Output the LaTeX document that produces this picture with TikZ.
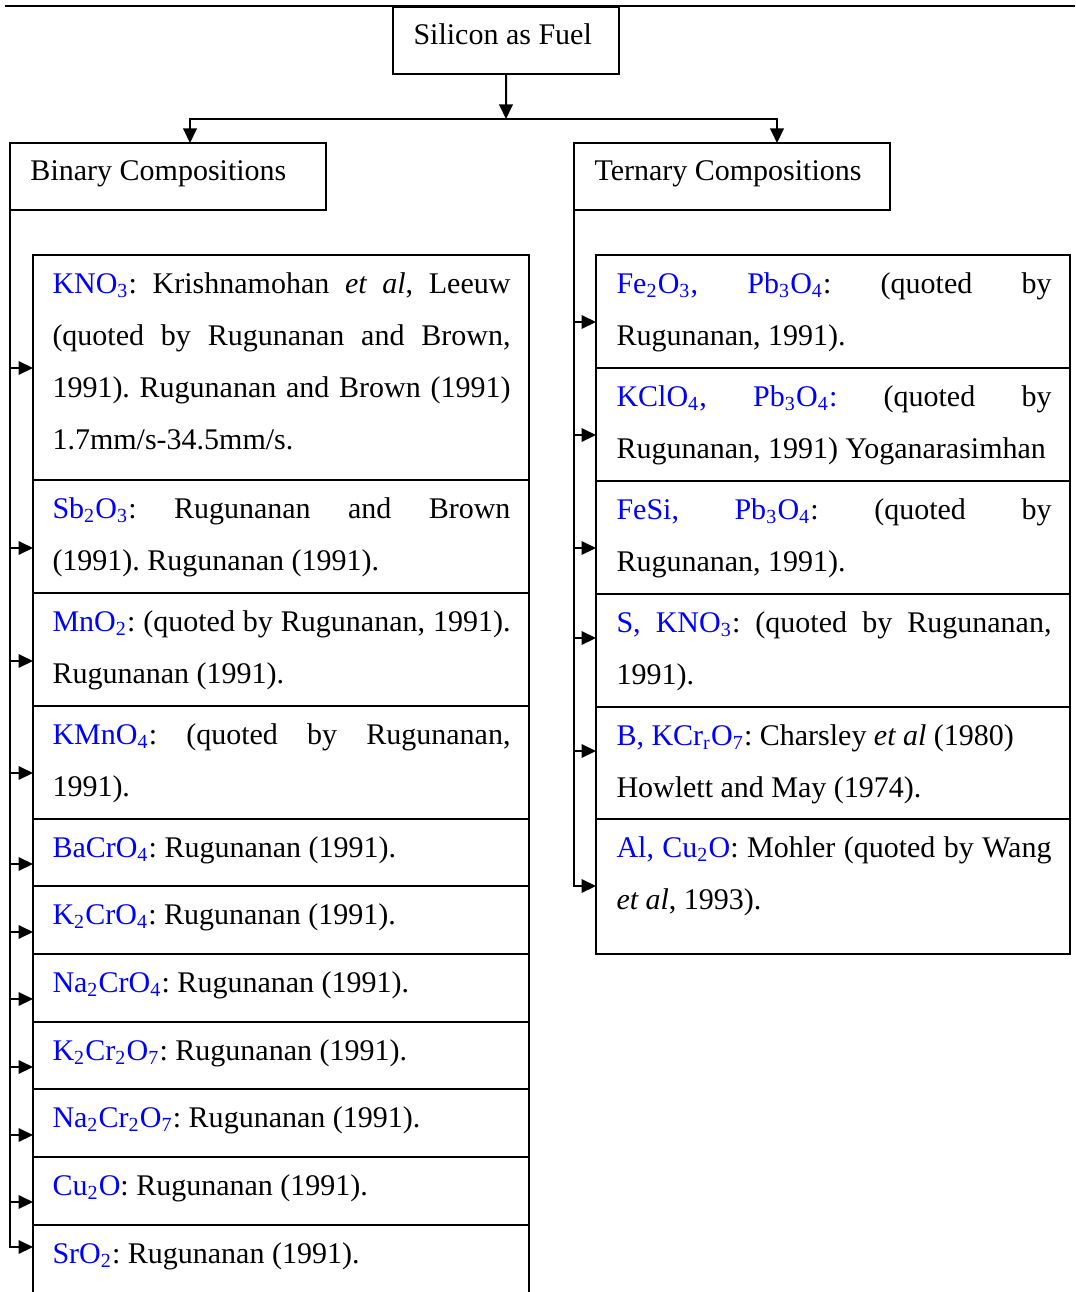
\documentclass[tikz,border=0pt]{standalone}
\usepackage{fontspec}
\setmainfont{Liberation Serif}
\usetikzlibrary{arrows.meta}
\hyphenpenalty=10000
\exhyphenpenalty=10000
\tolerance=9999
\frenchspacing
\newcommand\sbs[1]{\textsubscript{#1}}
\newcommand\chem[1]{\textcolor{blue}{#1}}
\begin{document}
\begin{tikzpicture}[x=0.4pt,y=-0.4pt,
  boxst/.style={draw,line width=0.6pt,rectangle,inner sep=0pt,outer sep=0pt,anchor=north west},
  titletxt/.style={inner sep=0pt,anchor=base west,font=\fontsize{12}{20.8}\selectfont\frenchspacing},
  itemtxt/.style={inner sep=0pt,anchor=base west,align=justify,font=\fontsize{12}{20.8}\selectfont\frenchspacing},
  ltxt/.style={itemtxt,text width=183.2pt},
  rtxt/.style={itemtxt,text width=174pt},
  lbox/.style={boxst,minimum width=198.4pt},
  rbox/.style={boxst,minimum width=189.6pt},
  conn/.style={line width=0.8pt},
  arr/.style={conn,-{Triangle[length=5.8pt,width=5.4pt]}}]
\useasboundingbox (0,0) rectangle (1075,1292);
\clip (0,0) rectangle (1075,1292);

% top rule
\draw[line width=0.8pt] (5,6) -- (1075,6);

% title boxes
\node[boxst,minimum width=90.4pt,minimum height=26.8pt] (sil) at (393,7) {};
\node[titletxt] (silT) at (413,45) {Silicon as Fuel};
\node[boxst,minimum width=126.4pt,minimum height=26.8pt] (bin) at (10,143) {};
\node[titletxt] (binT) at (30,181) {Binary Compositions};
\node[boxst,minimum width=126.4pt,minimum height=26.8pt] (ter) at (574,143) {};
\node[titletxt] (terT) at (594,181) {Ternary Compositions};

% top connectors
\coordinate (jn) at (506,119);
\coordinate (binIn) at (190,143);
\coordinate (terIn) at (777,143);
\draw[arr] (sil.south) -- (jn);
\draw[arr] (jn) -| (binIn);
\draw[arr] (jn) -| (terIn);

% left item boxes
\node[lbox,minimum height=90pt]   (L1)  at (33,255)  {};
\node[lbox,minimum height=45.2pt] (L2)  at (33,480)  {};
\node[lbox,minimum height=45.2pt] (L3)  at (33,593)  {};
\node[lbox,minimum height=45.2pt] (L4)  at (33,706)  {};
\node[lbox,minimum height=26.8pt] (L5)  at (33,819)  {};
\node[lbox,minimum height=27.2pt] (L6)  at (33,886)  {};
\node[lbox,minimum height=27.2pt] (L7)  at (33,954)  {};
\node[lbox,minimum height=26.8pt] (L8)  at (33,1022) {};
\node[lbox,minimum height=27.2pt] (L9)  at (33,1089) {};
\node[lbox,minimum height=27.2pt] (L10) at (33,1157) {};
\node[lbox,minimum height=32pt]   (L11) at (33,1225) {};

\node[ltxt] (L1t) at (52,293) {\chem{KNO\sbs{3}}: Krishnamohan \textit{et al}, Leeuw \linebreak (quoted by Rugunanan and Brown, \linebreak 1991). Rugunanan and Brown (1991) \linebreak 1.7mm/s-34.5mm/s.};
\node[ltxt] (L2t) at (52,518) {\chem{Sb\sbs{2}O\sbs{3}}: Rugunanan and Brown \linebreak (1991). Rugunanan (1991).};
\node[ltxt] (L3t) at (52,631) {\chem{MnO\sbs{2}}: (quoted by Rugunanan, 1991). \linebreak Rugunanan (1991).};
\node[ltxt] (L4t) at (52,744) {\chem{KMnO\sbs{4}}: (quoted by Rugunanan, \linebreak 1991).};
\node[ltxt] (L5t) at (52,857) {\chem{BaCrO\sbs{4}}: Rugunanan (1991).};
\node[ltxt] (L6t) at (52,924) {\chem{K\sbs{2}CrO\sbs{4}}: Rugunanan (1991).};
\node[ltxt] (L7t) at (52,992) {\chem{Na\sbs{2}CrO\sbs{4}}: Rugunanan (1991).};
\node[ltxt] (L8t) at (52,1060) {\chem{K\sbs{2}Cr\sbs{2}O\sbs{7}}: Rugunanan (1991).};
\node[ltxt] (L9t) at (52,1127) {\chem{Na\sbs{2}Cr\sbs{2}O\sbs{7}}: Rugunanan (1991).};
\node[ltxt] (L10t) at (52,1195) {\chem{Cu\sbs{2}O}: Rugunanan (1991).};
\node[ltxt] (L11t) at (52,1263) {\chem{SrO\sbs{2}}: Rugunanan (1991).};

% right item boxes
\node[rbox,minimum height=45.2pt] (R1) at (596,255) {};
\node[rbox,minimum height=45.2pt] (R2) at (596,368) {};
\node[rbox,minimum height=45.2pt] (R3) at (596,481) {};
\node[rbox,minimum height=45.2pt] (R4) at (596,594) {};
\node[rbox,minimum height=44.8pt] (R5) at (596,707) {};
\node[rbox,minimum height=54pt]   (R6) at (596,819) {};

\node[rtxt] (R1t) at (616,293) {\chem{Fe\sbs{2}O\sbs{3}, Pb\sbs{3}O\sbs{4}}: (quoted by \linebreak Rugunanan, 1991).};
\node[rtxt] (R2t) at (616,406) {\chem{KClO\sbs{4}, Pb\sbs{3}O\sbs{4}:} (quoted by \linebreak Rugunanan, 1991) Yoganarasimhan};
\node[rtxt] (R3t) at (616,519) {\chem{FeSi, Pb\sbs{3}O\sbs{4}}: (quoted by \linebreak Rugunanan, 1991).};
\node[rtxt] (R4t) at (616,632) {\chem{S, KNO\sbs{3}}: (quoted by Rugunanan, \linebreak 1991).};
\node[rtxt] (R5t) at (616,745) {\chem{B, KCr\sbs{r}O\sbs{7}}: Charsley \textit{et al} (1980)\\ Howlett and May (1974).};
\node[rtxt] (R6t) at (616,857) {\chem{Al, Cu\sbs{2}O}: Mohler (quoted by Wang \linebreak \textit{et al}, 1993).};

% left trunk and arrows
\coordinate (lEnd) at (10,1247);
\draw[arr] (bin.south west) -- (lEnd) -- (lEnd -| L11.west);
\foreach \n/\yy in {L1/368,L2/548,L3/661,L4/773,L5/864,L6/932,L7/999,L8/1067,L9/1135,L10/1202}
  \draw[arr] (10,\yy) -- (\n.west |- {(0,\yy)});

% right trunk and arrows
\coordinate (rEnd) at (574,886);
\draw[arr] (ter.south west) -- (rEnd) -- (rEnd -| R6.west);
\foreach \n/\yy in {R1/322,R2/435,R3/548,R4/638,R5/751}
  \draw[arr] (574,\yy) -- (\n.west |- {(0,\yy)});
\end{tikzpicture}
\end{document}
